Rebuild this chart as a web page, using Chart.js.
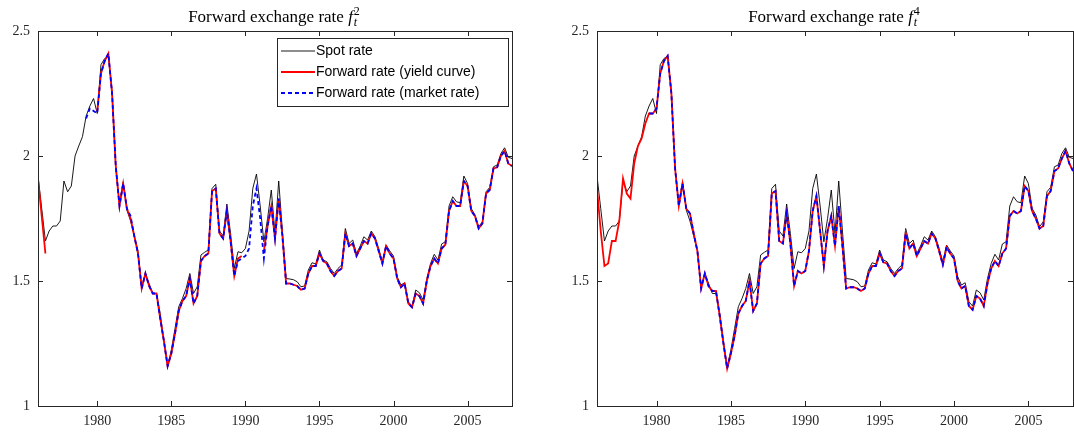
<!DOCTYPE html>
<html>
<head>
<meta charset="utf-8">
<script src="https://cdn.jsdelivr.net/npm/chart.js@4"></script>
<style>
  body { margin: 0; background: #fff; width: 1074px; height: 432px; overflow: hidden; }
  .panel { position: absolute; top: 0; height: 432px; }
  #p1 { left: 0; width: 537px; }
  #p2 { left: 537px; width: 537px; }
</style>
</head>
<body>
<div class="panel" id="p1"><canvas id="c1"></canvas></div>
<div class="panel" id="p2"><canvas id="c2"></canvas></div>
<script>
// quarterly observations, 1976Q1 .. 2008Q1
const startYear = 1976
const xTicks = [1980, 1985, 1990, 1995, 2000, 2005]
const yTicks = [1, 1.5, 2, 2.5]

const spot = [
  1.92, 1.79, 1.66, 1.70,
  1.72, 1.72, 1.74, 1.90,
  1.857, 1.88, 2.00, 2.04,
  2.077, 2.16, 2.20, 2.23,
  2.17, 2.365, 2.39, 2.40,
  2.26, 1.95, 1.81, 1.897,
  1.784, 1.74, 1.68, 1.62,
  1.477, 1.53, 1.49, 1.45,
  1.45, 1.37, 1.26, 1.157,
  1.224, 1.31, 1.397, 1.43,
  1.47, 1.53, 1.45, 1.477,
  1.604, 1.615, 1.624, 1.87,
  1.887, 1.70, 1.68, 1.808,
  1.69, 1.55, 1.617, 1.613,
  1.63, 1.70, 1.87, 1.928,
  1.80, 1.657, 1.75, 1.864,
  1.69, 1.90, 1.70, 1.51,
  1.508, 1.505, 1.497, 1.477,
  1.48, 1.544, 1.573, 1.568,
  1.624, 1.584, 1.577, 1.55,
  1.53, 1.55, 1.564, 1.71,
  1.65, 1.664, 1.61, 1.64,
  1.677, 1.664, 1.70, 1.677,
  1.63, 1.577, 1.644, 1.62,
  1.60, 1.517, 1.484, 1.493,
  1.417, 1.40, 1.464, 1.453,
  1.424, 1.51, 1.57, 1.607,
  1.584, 1.648, 1.657, 1.80,
  1.837, 1.817, 1.813, 1.92,
  1.89, 1.79, 1.764, 1.717,
  1.737, 1.857, 1.875, 1.957,
  1.964, 2.01, 2.033, 1.995,
  1.99
]

const fwd2Yield = [
  1.91, 1.76, 1.61, null,
  null, null, null, null,
  null, null, null, null,
  null, null, null, null,
  2.18, 2.33, 2.38, 2.41,
  2.25, 1.96, 1.80, 1.89,
  1.79, 1.75, 1.68, 1.61,
  1.47, 1.53, 1.48, 1.45,
  1.45, 1.35, 1.26, 1.16,
  1.21, 1.29, 1.38, 1.42,
  1.44, 1.51, 1.41, 1.44,
  1.58, 1.60, 1.61, 1.86,
  1.87, 1.69, 1.67, 1.78,
  1.66, 1.52, 1.59, 1.60,
  null, null, null, null,
  null, 1.62, 1.72, 1.80,
  1.67, 1.83, 1.68, 1.49,
  1.49, 1.485, 1.48, 1.465,
  1.47, 1.53, 1.56, 1.56,
  1.61, 1.58, 1.57, 1.54,
  1.52, 1.54, 1.55, 1.69,
  1.64, 1.65, 1.60, 1.63,
  1.66, 1.65, 1.69, 1.67,
  1.62, 1.57, 1.64, 1.61,
  1.59, 1.51, 1.475, 1.49,
  1.41, 1.395, 1.45, 1.44,
  1.41, 1.50, 1.56, 1.59,
  1.57, 1.63, 1.645, 1.78,
  1.82, 1.80, 1.80, 1.90,
  1.88, 1.78, 1.76, 1.71,
  1.73, 1.85, 1.865, 1.95,
  1.955, 2.00, 2.02, 1.97,
  1.96
]

const fwd2Market = [
  null, null, null, null,
  null, null, null, null,
  null, null, null, null,
  null, 2.15, 2.19, 2.18,
  2.17, 2.33, 2.38, 2.41,
  2.25, 1.96, 1.80, 1.89,
  1.79, 1.76, 1.68, 1.61,
  1.47, 1.53, 1.48, 1.45,
  1.45, 1.35, 1.26, 1.16,
  1.21, 1.29, 1.38, 1.42,
  1.44, 1.51, 1.41, 1.44,
  1.58, 1.60, 1.61, 1.86,
  1.87, 1.69, 1.67, 1.78,
  1.66, 1.52, 1.58, 1.59,
  1.60, 1.63, 1.80, 1.87,
  1.75, 1.59, 1.72, 1.80,
  1.67, 1.83, 1.68, 1.49,
  1.49, 1.485, 1.48, 1.465,
  1.47, 1.53, 1.56, 1.56,
  1.61, 1.58, 1.57, 1.54,
  1.52, 1.54, 1.55, 1.69,
  1.64, 1.65, 1.60, 1.63,
  1.66, 1.65, 1.69, 1.67,
  1.62, 1.57, 1.64, 1.61,
  1.59, 1.51, 1.475, 1.49,
  1.41, 1.395, 1.45, 1.44,
  1.41, 1.50, 1.56, 1.59,
  1.57, 1.63, 1.645, 1.78,
  1.82, 1.80, 1.80, 1.90,
  1.88, 1.78, 1.76, 1.71,
  1.73, 1.85, 1.865, 1.95,
  1.955, 2.00, 2.02, 1.97,
  1.96
]

const fwd4Yield = [
  1.87, 1.70, 1.56, 1.57,
  1.66, 1.66, 1.74, 1.91,
  1.85, 1.83, 1.97, 2.04,
  2.07, 2.13, 2.17, 2.17,
  2.19, 2.33, 2.38, 2.40,
  2.25, 1.95, 1.80, 1.89,
  1.79, 1.77, 1.69, 1.62,
  1.47, 1.53, 1.48, 1.46,
  1.46, 1.36, 1.25, 1.15,
  1.21, 1.28, 1.37, 1.40,
  1.42, 1.50, 1.38, 1.41,
  1.57, 1.59, 1.60, 1.85,
  1.86, 1.66, 1.65, 1.77,
  1.65, 1.48, 1.54, 1.53,
  1.54, 1.62, 1.78, 1.84,
  1.70, 1.56, 1.70, 1.76,
  1.64, 1.80, 1.64, 1.47,
  1.475, 1.475, 1.47, 1.46,
  1.47, 1.53, 1.56, 1.56,
  1.61, 1.575, 1.57, 1.54,
  1.52, 1.54, 1.55, 1.69,
  1.63, 1.65, 1.60, 1.63,
  1.66, 1.65, 1.69, 1.67,
  1.62, 1.565, 1.635, 1.61,
  1.59, 1.50, 1.47, 1.48,
  1.40, 1.385, 1.44, 1.43,
  1.40, 1.49, 1.55, 1.58,
  1.56, 1.61, 1.63, 1.76,
  1.78, 1.77, 1.78, 1.88,
  1.86, 1.78, 1.75, 1.71,
  1.72, 1.84, 1.86, 1.94,
  1.95, 1.99, 2.02, 1.97,
  1.94
]

// market-rate forward for horizon 4 starts in 1979Q3 and then coincides with the yield-curve one
const fwd4MarketStart = 14
const fwd4Market = fwd4Yield.map((v, i) => (i < fwd4MarketStart ? null : v))

function toPoints(arr) {
  return arr.map((v, i) => ({ x: startYear + i / 4, y: v }))
}

function makeDatasets(fy, fm) {
  return [
    { label: 'Spot rate', data: toPoints(spot), borderColor: '#000', borderWidth: 0.9, order: 2 },
    { label: 'Forward rate (yield curve)', data: toPoints(fy), borderColor: '#ff0000', borderWidth: 1.8, order: 1 },
    { label: 'Forward rate (market rate)', data: toPoints(fm), borderColor: '#0000ff', borderWidth: 1.8, borderDash: [4, 3], order: 0 }
  ]
}

// title like "Forward exchange rate f_t^2"
const titlePlugin = {
  id: 'mtitle',
  afterDraw(chart, args, opts) {
    const c = chart.ctx
    const a = chart.chartArea
    c.save()
    c.fillStyle = '#000'
    c.textBaseline = 'alphabetic'
    c.font = '17px "Liberation Serif"'
    const main = 'Forward exchange rate '
    const w1 = c.measureText(main).width
    c.font = 'italic 17px "Liberation Serif"'
    const wf = c.measureText('f').width
    const total = w1 + wf + 9
    let x = (a.left + a.right) / 2 - total / 2
    const y = 22
    c.font = '17px "Liberation Serif"'
    c.fillText(main, x, y)
    x += w1
    c.font = 'italic 17px "Liberation Serif"'
    c.fillText('f', x, y)
    x += wf + 1
    c.font = 'italic 12px "Liberation Serif"'
    c.fillText('t', x, y + 4)
    c.font = '12px "Liberation Serif"'
    c.fillText(opts.sup, x, y - 7)
    c.restore()
  }
}

// inward ticks on all four sides, box outline
const boxPlugin = {
  id: 'box',
  afterDraw(chart) {
    const c = chart.ctx
    const a = chart.chartArea
    const xs = chart.scales.x
    const ys = chart.scales.y
    c.save()
    c.strokeStyle = '#262626'
    c.lineWidth = 1
    c.strokeRect(a.left + 0.5, a.top + 0.5, a.right - a.left, a.bottom - a.top)
    c.beginPath()
    xTicks.forEach((t) => {
      const px = Math.round(xs.getPixelForValue(t)) + 0.5
      c.moveTo(px, a.bottom); c.lineTo(px, a.bottom - 5)
      c.moveTo(px, a.top); c.lineTo(px, a.top + 5)
    })
    yTicks.forEach((t) => {
      const py = Math.round(ys.getPixelForValue(t)) + 0.5
      c.moveTo(a.left, py); c.lineTo(a.left + 5, py)
      c.moveTo(a.right, py); c.lineTo(a.right - 5, py)
    })
    c.stroke()
    c.restore()
  }
}

const legendPlugin = {
  id: 'mlegend',
  afterDraw(chart, args, opts) {
    if (!opts.show) return
    const c = chart.ctx
    const bx = 277, by = 38, bw = 231, bh = 68
    c.save()
    c.fillStyle = '#fff'
    c.fillRect(bx, by, bw, bh)
    c.strokeStyle = '#262626'
    c.lineWidth = 1
    c.strokeRect(bx + 0.5, by + 0.5, bw, bh)
    c.font = '14px "Liberation Sans"'
    c.textBaseline = 'middle'
    chart.data.datasets.forEach((ds, i) => {
      const y = by + 13 + i * 21
      c.strokeStyle = ds.borderColor
      c.lineWidth = ds.borderWidth
      c.setLineDash(ds.borderDash || [])
      c.beginPath()
      c.moveTo(bx + 4, y); c.lineTo(bx + 38, y)
      c.stroke()
      c.setLineDash([])
      c.fillStyle = '#000'
      c.fillText(ds.label, bx + 39, y)
    })
    c.restore()
  }
}

function makeChart(id, fy, fm, sup, yWidth, showLegend) {
  return new Chart(document.getElementById(id), {
    type: 'line',
    data: { datasets: makeDatasets(fy, fm) },
    plugins: [titlePlugin, boxPlugin, legendPlugin],
    options: {
      responsive: false,
      animation: false,
      spanGaps: false,
      elements: { point: { radius: 0 }, line: { tension: 0 } },
      layout: { padding: { top: 31, right: id === 'c1' ? 25 : 1, bottom: 0, left: 0 } },
      plugins: {
        legend: { display: false },
        tooltip: { enabled: false },
        mtitle: { sup: sup },
        mlegend: { show: showLegend }
      },
      scales: {
        x: {
          type: 'linear', min: 1976, max: 2008,
          afterBuildTicks: (s) => { s.ticks = xTicks.map((v) => ({ value: v })) },
          afterFit: (s) => { s.height = 26 },
          grid: { display: false, drawTicks: false },
          border: { display: false },
          ticks: { color: '#262626', padding: 7, maxRotation: 0, font: { family: 'Liberation Serif', size: 14 }, callback: (v) => String(v) }
        },
        y: {
          min: 1, max: 2.5,
          afterBuildTicks: (s) => { s.ticks = yTicks.map((v) => ({ value: v })) },
          afterFit: (s) => { s.width = yWidth },
          grid: { display: false, drawTicks: false },
          border: { display: false },
          ticks: { color: '#262626', padding: 8, font: { family: 'Liberation Serif', size: 14 }, callback: (v) => String(v) }
        }
      }
    }
  })
}

function sizeCanvas(id) {
  const el = document.getElementById(id)
  el.width = 537
  el.height = 432
  el.style.width = '537px'
  el.style.height = '432px'
}
sizeCanvas('c1')
sizeCanvas('c2')
makeChart('c1', fwd2Yield, fwd2Market, '2', 38, true)
makeChart('c2', fwd4Yield, fwd4Market, '4', 60, false)
</script>
</body>
</html>
